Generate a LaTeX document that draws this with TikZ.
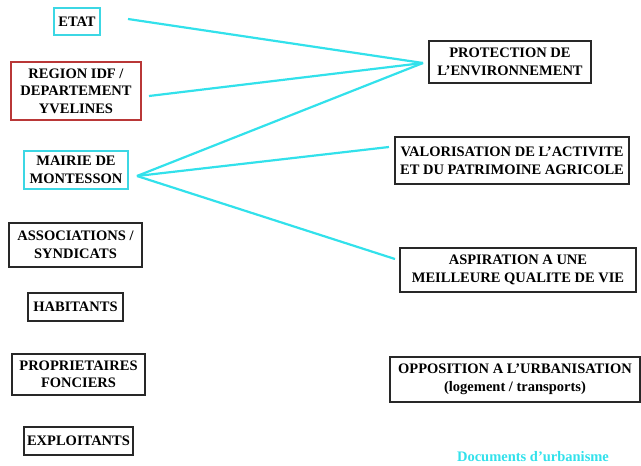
\documentclass[tikz,border=0pt]{standalone}
\usepackage{fontspec}
\setmainfont{Liberation Serif}
\definecolor{cyanline}{RGB}{50,225,235}
\definecolor{cyanbox}{RGB}{60,215,228}
\definecolor{redbox}{RGB}{185,55,55}
\definecolor{boxgray}{RGB}{40,40,40}
\begin{document}
\begin{tikzpicture}[x=1pt,y=-1pt,
  every node/.style={font=\fontsize{14.5}{17.5}\selectfont\bfseries, align=center, inner sep=0pt, text=black},
  bbox/.style={draw=boxgray, line width=1.4pt},
  cbox/.style={draw=cyanbox, line width=1.3pt},
  rbox/.style={draw=redbox, line width=1.3pt},
  link/.style={draw=cyanline, line width=2.2pt}]
\useasboundingbox (0,0) rectangle (641,466);
% left column
\node[cbox, minimum width=46pt, minimum height=27pt] (etat) at (77,21.5) {ETAT};
\node[rbox, minimum width=130pt, minimum height=58pt] (region) at (76,91) {REGION IDF /\\DEPARTEMENT\\YVELINES};
\node[cbox, minimum width=104pt, minimum height=38pt] (mairie) at (76,170) {MAIRIE DE\\MONTESSON};
\node[bbox, minimum width=133pt, minimum height=44pt] (assoc) at (75.5,245) {ASSOCIATIONS /\\SYNDICATS};
\node[bbox, minimum width=95pt, minimum height=28pt] (hab) at (75.5,307) {HABITANTS};
\node[bbox, minimum width=133pt, minimum height=41pt] (prop) at (78.5,374.5) {PROPRIETAIRES\\FONCIERS};
\node[bbox, minimum width=109pt, minimum height=28pt] (expl) at (78.5,441) {EXPLOITANTS};
% right column
\node[bbox, minimum width=162pt, minimum height=42pt] (prot) at (510,62) {PROTECTION DE\\L'ENVIRONNEMENT};
\node[bbox, minimum width=234pt, minimum height=47pt] (valo) at (512,160.5) {VALORISATION DE L'ACTIVITE\\ET DU PATRIMOINE AGRICOLE};
\node[bbox, minimum width=236pt, minimum height=44pt] (aspi) at (518,270) {ASPIRATION A UNE\\MEILLEURE QUALITE DE VIE};
\node[bbox, minimum width=250pt, minimum height=45pt] (oppo) at (515,379.5) {OPPOSITION A L'URBANISATION\\(logement / transports)};
\node[text=cyanline] (docs) at (533,457) {Documents d'urbanisme};
% connector ends
\coordinate (etatout) at (128,19);
\coordinate (regout) at (149,96);
\coordinate (mairout) at (137,176);
\coordinate (protin) at (423,63);
\coordinate (valoin) at (389,147);
\coordinate (aspiin) at (395,259);
\draw[link] (etatout) -- (protin);
\draw[link] (regout) -- (protin);
\draw[link] (mairout) -- (protin);
\draw[link] (mairout) -- (valoin);
\draw[link] (mairout) -- (aspiin);
\end{tikzpicture}
\end{document}
